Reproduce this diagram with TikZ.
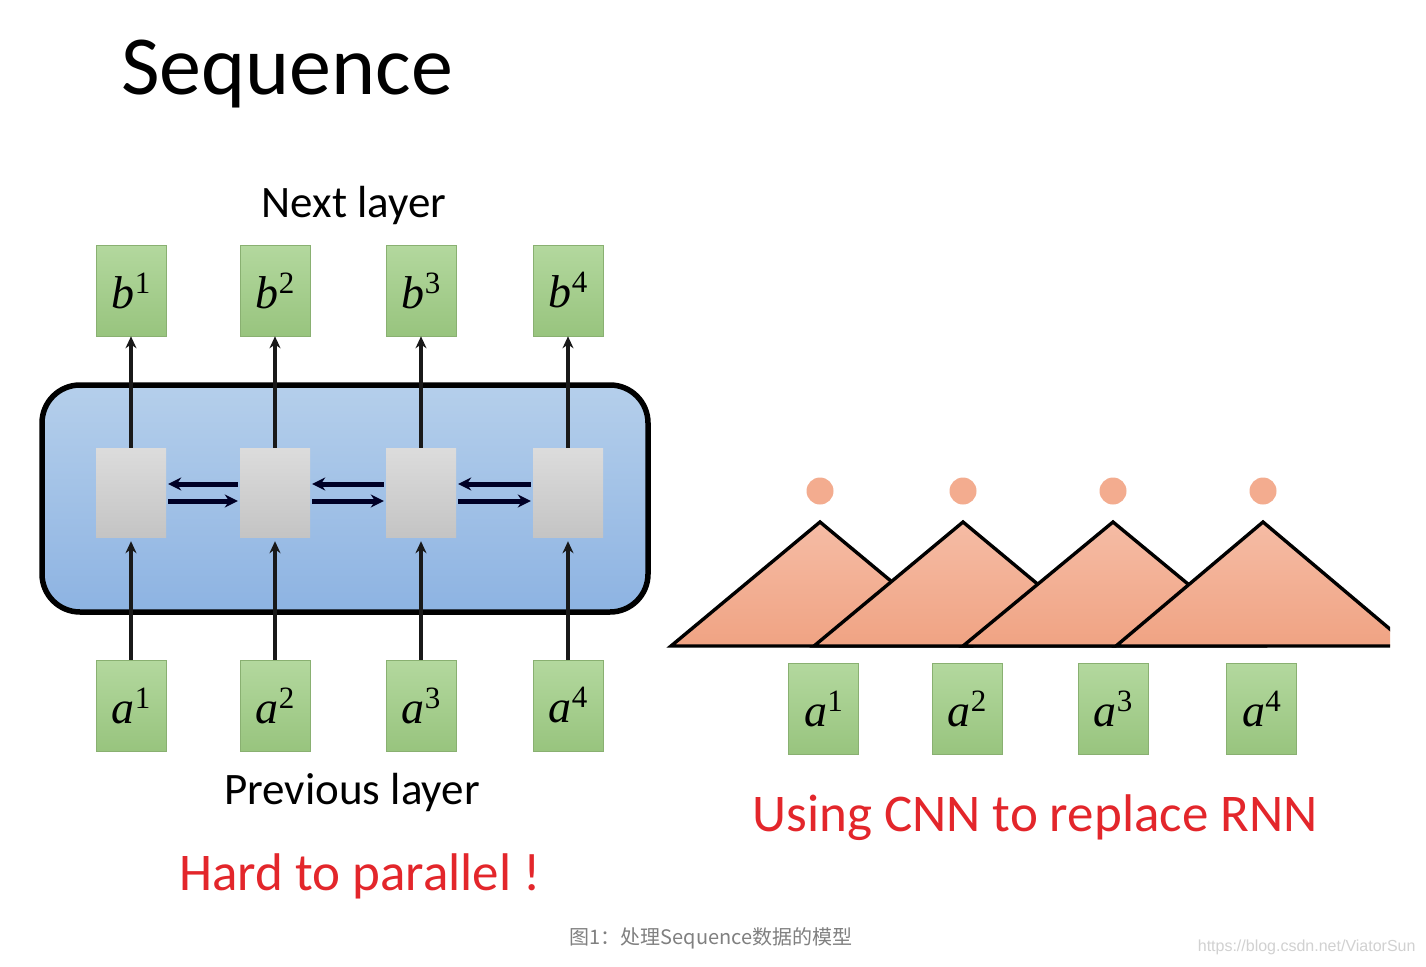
\documentclass[tikz,border=0pt]{standalone}
\usepackage{fontspec}
\setmainfont{Carlito}
\newfontfamily\cjkfont{Noto Sans CJK SC}
\newfontfamily\wmfont{Liberation Sans}
\newfontfamily\labfont{Liberation Serif}
\usetikzlibrary{arrows.meta,calc}
\definecolor{rred}{HTML}{E3262B}
\definecolor{gtop}{HTML}{B3D89E}
\definecolor{gbot}{HTML}{98C47E}
\definecolor{btop}{HTML}{B5CFEB}
\definecolor{bbot}{HTML}{8DB3E2}
\definecolor{ctop}{HTML}{DCDCDC}
\definecolor{cbot}{HTML}{C4C4C4}
\definecolor{ttop}{HTML}{F5BCA5}
\definecolor{tbot}{HTML}{F0A383}
\definecolor{dotc}{HTML}{F3AC8F}
\newcommand{\lab}[2]{{\labfont\fontsize{46}{50}\selectfont\itshape #1\raisebox{15pt}{\upshape\fontsize{31}{32}\selectfont #2}}}
\tikzset{
  gbox/.style={draw=gbot!90!black, line width=0.6pt, top color=gtop, bottom color=gbot, minimum width=70pt, minimum height=91pt, inner sep=0pt},
  cell/.style={draw=none, top color=ctop, bottom color=cbot, minimum width=70pt, minimum height=89pt, inner sep=0pt},
  arr/.style={line width=3.6pt, -{Stealth[length=12pt,width=11pt]}, color=black!90},
  harr/.style={line width=5pt, -{Stealth[length=13pt,width=13pt]}, color=black!85!blue},
  tri/.style={draw=black, line width=3.4pt, line join=miter, top color=ttop, bottom color=tbot},
  dot/.style={circle, fill=dotc, minimum width=27pt, inner sep=0pt, draw=none},
}
\begin{document}
\begin{tikzpicture}[x=1pt,y=-1pt]
\useasboundingbox (0,0) rectangle (1426,966);
\fill[white] (0,0) rectangle (1426,966);
% title
\node[font=\fontsize{84}{96}\selectfont, anchor=base] (title) at (287,94) {Sequence};
% RNN block
\node[draw=black, line width=5.5pt, rounded corners=38pt, top color=btop, bottom color=bbot, minimum width=606pt, minimum height=227pt, inner sep=0pt] (rnn) at (345,498.5) {};
\node[font=\fontsize{45}{52}\selectfont] (next) at (354,206) {Next layer};
\node[font=\fontsize{45}{52}\selectfont] (prev) at (352,792) {Previous layer};
\node[font=\fontsize{53}{60}\selectfont, text=rred] (hard) at (360,876) {Hard to parallel !};
\foreach \i/\x in {1/131,2/275,3/421,4/568}{
  \node[gbox] (b\i) at (\x,290.5) {\lab{b}{\i}};
  \node[cell] (c\i) at (\x,492.5) {};
  \node[gbox] (a\i) at (\x,705.5) {\lab{a}{\i}};
  \draw[arr] (a\i.north) -- ([yshift=-4pt]c\i.south);
  \draw[arr] (c\i.north) -- (b\i.south);
}
\foreach \i/\j in {1/2,2/3,3/4}{
  \draw[harr] ([yshift=8.5pt,xshift=-2pt]c\j.west) -- ([yshift=8.5pt,xshift=2pt]c\i.east);
  \draw[harr] ([yshift=-8.5pt,xshift=2pt]c\i.east) -- ([yshift=-8.5pt,xshift=-2pt]c\j.west);
}
% CNN side
\begin{scope}
\clip (660,400) rectangle (1390,660);
\foreach \l/\p in {671/820,814/963,963/1113,1116/1263}{
  \coordinate (L\l) at (\l,646);
  \coordinate (P\l) at (\p,522);
  \coordinate (R\l) at ({2*\p-\l},646);
  \draw[tri] (L\l) -- (P\l) -- (R\l) -- cycle;
}
\end{scope}
\foreach \i/\x in {1/820,2/963,3/1113,4/1263}{
  \node[dot] (d\i) at (\x,491) {};
}
\foreach \i/\x in {1/823.5,2/967,3/1113,4/1261.5}{
  \node[gbox] (ra\i) at (\x,709) {\lab{a}{\i}};
}
\node[font=\fontsize{53}{60}\selectfont, text=rred] (cnn) at (1035,818) {Using CNN to replace RNN};
% caption
\node[font=\cjkfont\fontsize{20}{24}\selectfont, text=black!50] (cap) at (711,938) {图1：处理Sequence数据的模型};
\node[font=\wmfont\fontsize{16}{19}\selectfont, text=black!18, anchor=east] (wm) at (1419,947) {https://blog.csdn.net/ViatorSun};
\end{tikzpicture}
\end{document}
